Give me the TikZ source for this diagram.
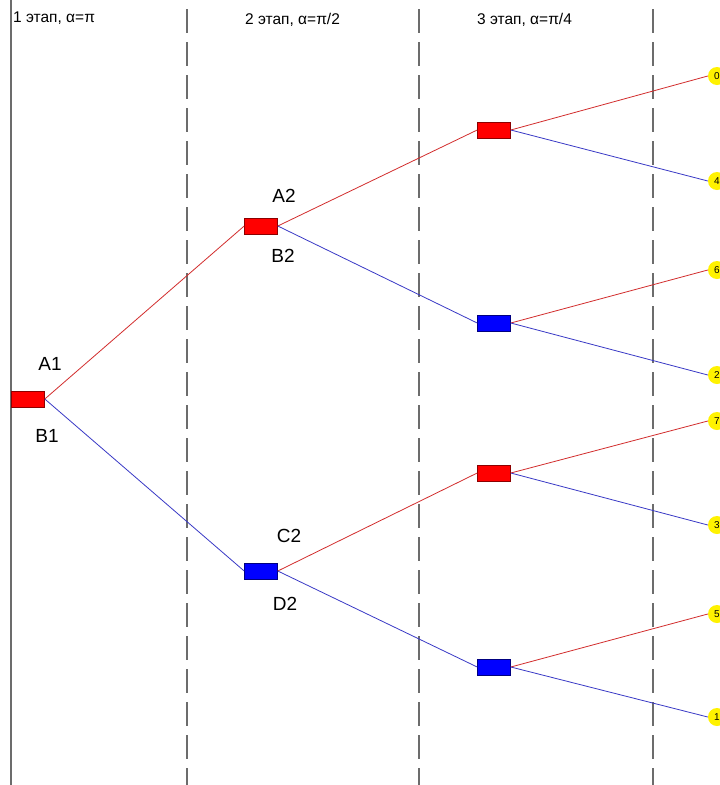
\documentclass[tikz,border=0pt]{standalone}
\usepackage{fontspec}
\setmainfont{Liberation Sans}
\begin{document}
\begin{tikzpicture}[x=1pt,y=-1pt,
  redbox/.style={draw=red!55!black, fill=red, minimum width=33pt, minimum height=16pt, inner sep=0pt, line width=0.6pt},
  bluebox/.style={draw=blue!50!black, fill=blue, minimum width=33pt, minimum height=16pt, inner sep=0pt, line width=0.6pt},
  leaf/.style={circle, fill=yellow, minimum size=18pt, inner sep=0pt, font=\fontsize{10}{10}\selectfont},
  lbl/.style={font=\fontsize{19}{19}\selectfont, inner sep=0pt},
  hdr/.style={font=\fontsize{15.5}{16}\selectfont, inner sep=0pt, anchor=west},
  redline/.style={draw=red!65!gray, line width=0.8pt},
  blueline/.style={draw=blue!55!gray, line width=0.8pt},
  sep/.style={draw=gray!85!black, line width=1.6pt, dash pattern=on 24pt off 9pt}
]
\useasboundingbox (0,0) rectangle (720,785);
\fill[white] (0,0) rectangle (720,785);

% stage separators
\draw[gray!85!black, line width=1.4pt] (11,0) -- (11,785);
\draw[sep] (187,9) -- (187,785);
\draw[sep] (419,9) -- (419,785);
\draw[sep] (653,9) -- (653,785);

% stage headings
\node[hdr] (h1) at (13,18) {1 этап, α=π};
\node[hdr] (h2) at (245,20) {2 этап, α=π/2};
\node[hdr] (h3) at (477,20) {3 этап, α=π/4};

% decision nodes
\node[redbox] (a1) at (28,399) {};
\node[redbox] (a2) at (261,226) {};
\node[bluebox] (c2) at (261,571) {};
\node[redbox] (s1) at (494,130) {};
\node[bluebox] (s2) at (494,323) {};
\node[redbox] (s3) at (494,473) {};
\node[bluebox] (s4) at (494,667) {};

% node labels
\node[lbl] (la1) at (50,364) {A1};
\node[lbl] (lb1) at (47,436) {B1};
\node[lbl] (la2) at (284,196) {A2};
\node[lbl] (lb2) at (283,256) {B2};
\node[lbl] (lc2) at (289,536) {C2};
\node[lbl] (ld2) at (285,604) {D2};

% outcomes
\node[leaf] (o0) at (717,76) {0};
\node[leaf] (o4) at (717,181) {4};
\node[leaf] (o6) at (717,270) {6};
\node[leaf] (o2) at (717,375) {2};
\node[leaf] (o7) at (717,421) {7};
\node[leaf] (o3) at (717,525) {3};
\node[leaf] (o5) at (717,614) {5};
\node[leaf] (o1) at (717,717) {1};

% branches
\draw[redline] (a1.east) -- (a2.west);
\draw[blueline] (a1.east) -- (c2.west);
\draw[redline] (a2.east) -- (s1.west);
\draw[blueline] (a2.east) -- (s2.west);
\draw[redline] (c2.east) -- (s3.west);
\draw[blueline] (c2.east) -- (s4.west);
\draw[redline] (s1.east) -- (o0.west);
\draw[blueline] (s1.east) -- (o4.west);
\draw[redline] (s2.east) -- (o6.west);
\draw[blueline] (s2.east) -- (o2.west);
\draw[redline] (s3.east) -- (o7.west);
\draw[blueline] (s3.east) -- (o3.west);
\draw[redline] (s4.east) -- (o5.west);
\draw[blueline] (s4.east) -- (o1.west);
\end{tikzpicture}
\end{document}
